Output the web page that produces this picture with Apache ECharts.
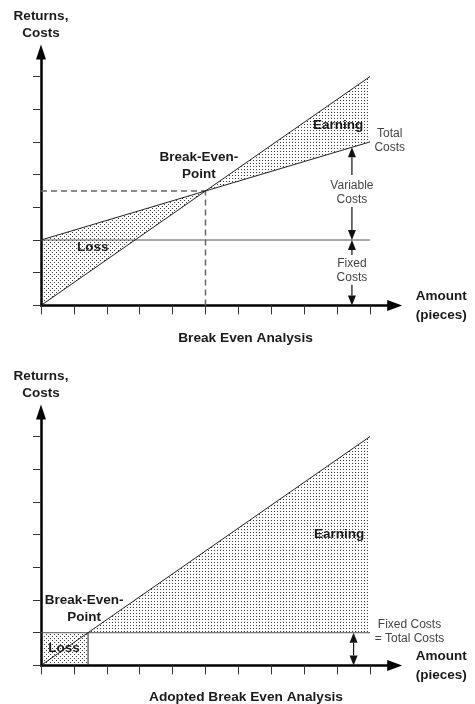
<!DOCTYPE html>
<html><head><meta charset="utf-8">
<script src="https://cdn.jsdelivr.net/npm/echarts@6/dist/echarts.min.js"></script>
<style>html,body{margin:0;padding:0;background:#fff}#c{width:475px;height:704px}</style>
</head><body><div id="c"></div>
<script>
// ---- data ----
const xTicks = [0,1,2,3,4,5,6,7,8,9,10];
const yTicks = [0,1,2,3,4,5,6,7];
// chart 1: break even analysis
const returns1 = [[0,0],[10,7]];
const totalCosts1 = [[0,2],[10,5]];
const fixedCosts1 = [[0,2],[10,2]];
const breakEven1 = [5, 3.5];
// chart 2: adopted break even analysis
const returns2 = [[0,0],[10,7]];
const fixedCosts2 = [[0,1],[10,1]];
const breakEven2 = [1.43, 1];
// arrow markers [x, from, to] (head at "to")
const arrows1 = [[9.45, 3.99, 4.835],[9.45, 3.01, 2],[9.45, 1.54, 2],[9.45, 0.63, 0]];
const arrows2 = [[9.5, 0.5, 1],[9.5, 0.5, 0]];

// ---- styling helpers ----
const FONT = "'Liberation Sans', Arial, sans-serif";
function makePattern(size, dots, color){
  const c=document.createElement('canvas'); c.width=size; c.height=size;
  const ctx=c.getContext('2d'); ctx.fillStyle=color;
  dots.forEach(d=>ctx.fillRect(d[0],d[1],1,1));
  return {image:c, repeat:'repeat'};
}
const earnFill = makePattern(3, [[1,1]], '#3a3a3a');
const lossFill = makePattern(4, [[0,0],[2,2]], '#3a3a3a');

const areas1 = [
  {pts:[[0,0],[0,fixedCosts1[0][1]],breakEven1], fill:lossFill},
  {pts:[breakEven1, returns1[1], totalCosts1[1]], fill:earnFill}
];
const areas2 = [
  {pts:[[0,0],[0,fixedCosts2[0][1]],breakEven2,[breakEven2[0],0]], fill:lossFill},
  {pts:[breakEven2, returns2[1], fixedCosts2[1]], fill:earnFill}
];

const texts1 = [
  {t:'Earning', p:[9.03,5.52], bold:true},
  {t:'Total\nCosts', p:[10.6,5.03]},
  {t:'Variable\nCosts', p:[9.45,3.46]},
  {t:'Fixed\nCosts', p:[9.45,1.06]},
  {t:'Break-Even-\nPoint', p:[4.8,4.28], bold:true},
  {t:'Loss', p:[1.57,1.77], bold:true}
];
const texts2 = [
  {t:'Earning', p:[9.06,4.02], bold:true},
  {t:'Break-Even-\nPoint', p:[1.31,1.72], bold:true},
  {t:'Loss', p:[0.7,0.53], bold:true},
  {t:'Fixed Costs\n= Total Costs', p:[11.2,1.02]}
];

function xAxis(gi){
  return {type:'value', gridIndex:gi, min:0, max:10.75,
    name:'Amount\n(pieces)', nameLocation:'end', nameGap:21,
    nameTextStyle:{fontFamily:FONT, fontWeight:'bold', fontSize:13.5, color:'#1a1a1a', lineHeight:19, align:'left', verticalAlign:'middle'},
    axisLine:{show:true, lineStyle:{color:'#000', width:2.5}, symbol:['none','triangle'], symbolSize:[11,15]},
    axisTick:{show:true, customValues:xTicks, length:9, lineStyle:{color:'#333', width:1}},
    axisLabel:{show:false}, splitLine:{show:false}};
}
function yAxis(gi){
  return {type:'value', gridIndex:gi, min:0, max:7.75,
    name:'Returns,\nCosts', nameLocation:'end', nameGap:10,
    nameTextStyle:{fontFamily:FONT, fontWeight:'bold', fontSize:13.5, color:'#1a1a1a', lineHeight:17, align:'center'},
    axisLine:{show:true, lineStyle:{color:'#000', width:2.5}, symbol:['none','triangle'], symbolSize:[10,15]},
    axisTick:{show:true, customValues:yTicks, length:8, lineStyle:{color:'#333', width:1}},
    axisLabel:{show:false}, splitLine:{show:false}};
}
function areaSeries(gi, areas){
  return {type:'custom', xAxisIndex:gi, yAxisIndex:gi, z:1, silent:true,
    data: areas.map((a,i)=>[0,0]),
    renderItem:(params, api)=>{
      const a = areas[params.dataIndex];
      return {type:'polygon', shape:{points:a.pts.map(p=>api.coord(p))}, style:{fill:a.fill, stroke:null}};
    }};
}
function lineSeries(gi, data, color, width, type){
  return {type:'line', xAxisIndex:gi, yAxisIndex:gi, data:data, symbol:'none', showSymbol:false, silent:true, z:3,
    lineStyle:{color:color, width:width, type:type||'solid'}};
}
function arrowSeries(gi, arr){
  return {type:'custom', xAxisIndex:gi, yAxisIndex:gi, z:4, silent:true,
    data: arr.map(a=>[a[0],a[1]]),
    renderItem:(params, api)=>{
      const a = arr[params.dataIndex];
      const p0 = api.coord([a[0],a[1]]), p1 = api.coord([a[0],a[2]]);
      const dir = p1[1] > p0[1] ? 1 : -1, L = 10, W = 4;
      return {type:'group', children:[
        {type:'line', shape:{x1:p0[0], y1:p0[1], x2:p1[0], y2:p1[1]-dir*L}, style:{stroke:'#111', lineWidth:1.2}},
        {type:'polygon', shape:{points:[[p1[0],p1[1]],[p1[0]-W,p1[1]-dir*L],[p1[0]+W,p1[1]-dir*L]]}, style:{fill:'#111'}}
      ]};
    }};
}
function textSeries(gi, items){
  return {type:'custom', xAxisIndex:gi, yAxisIndex:gi, z:5, silent:true, clip:false,
    data: items.map(it=>it.p),
    renderItem:(params, api)=>{
      const it = items[params.dataIndex];
      const p = api.coord(it.p);
      return {type:'text', x:p[0], y:p[1], style:{text:it.t, align:'center', verticalAlign:'middle',
        font:(it.bold?'bold 13.5px ':'12px ')+FONT, lineHeight: it.bold?17:14,
        fill: it.bold?'#1a1a1a':'#444'}};
    }};
}

const chart = echarts.init(document.getElementById('c'), null, {renderer:'canvas'});
chart.setOption({
  animation:false,
  backgroundColor:'#fff',
  grid:[
    {left:41, top:52, width:353.7, height:253.4, containLabel:false},
    {left:41, top:412, width:353.7, height:253.4, containLabel:false}
  ],
  xAxis:[xAxis(0), xAxis(1)],
  yAxis:[yAxis(0), yAxis(1)],
  graphic:[
    {type:'text', x:245.5, y:338, style:{text:'Break Even Analysis', align:'center', verticalAlign:'middle', font:'bold 13.7px '+FONT, fill:'#1a1a1a'}},
    {type:'text', x:246, y:697, style:{text:'Adopted Break Even Analysis', align:'center', verticalAlign:'middle', font:'bold 13.7px '+FONT, fill:'#1a1a1a'}}
  ],
  series:[
    areaSeries(0, areas1),
    lineSeries(0, fixedCosts1, '#555', 1),
    lineSeries(0, [[0,breakEven1[1]],breakEven1], '#666', 1.5, [6,4]),
    lineSeries(0, [[breakEven1[0],0],breakEven1], '#666', 1.5, [6,4]),
    lineSeries(0, returns1, '#222', 1),
    lineSeries(0, totalCosts1, '#222', 1),
    arrowSeries(0, arrows1),
    textSeries(0, texts1),
    areaSeries(1, areas2),
    lineSeries(1, fixedCosts2, '#555', 1),
    lineSeries(1, [[breakEven2[0],0],breakEven2], '#222', 1),
    lineSeries(1, returns2, '#222', 1),
    arrowSeries(1, arrows2),
    textSeries(1, texts2)
  ]
});
</script></body></html>
